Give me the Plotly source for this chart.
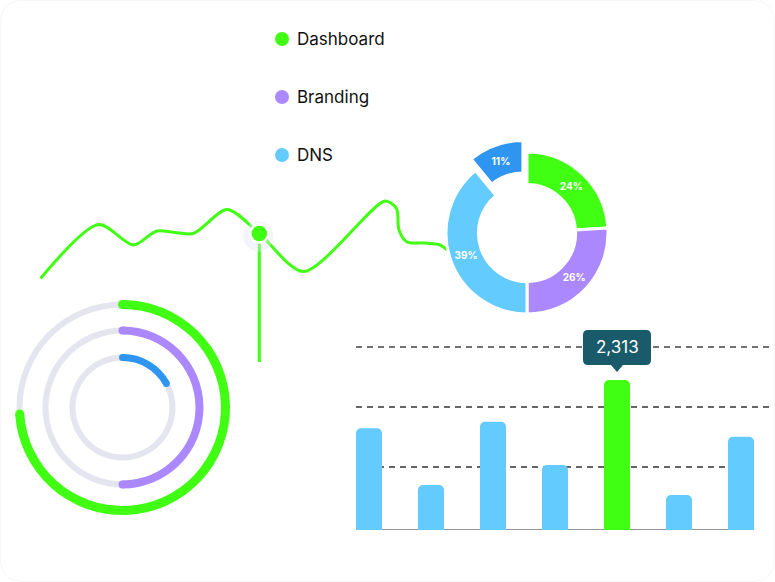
import plotly.graph_objects as go

W, H = 775, 582
FONT = "Inter"
GREEN = "#41FF12"
PURPLE = "#AB88FD"
LIGHT = "#64CBFE"
BLUE = "#2E95F1"
TRACK = "#E5E5F0"
TEAL = "#195B6A"

# ---------------- data ----------------
legend_labels = ["Dashboard", "Branding", "DNS"]
legend_colors = [GREEN, PURPLE, LIGHT]
legend_y = [39, 97, 155]

donut_labels = ["Dashboard", "Branding", "DNS", "Other"]
donut_values = [24, 26, 39, 11]
donut_colors = [GREEN, PURPLE, LIGHT, BLUE]
donut_pull = [0, 0, 0, 0.15]

ring_labels = ["Dashboard", "Branding", "DNS"]
ring_values = [74, 50, 17]          # percent complete
ring_colors = [GREEN, PURPLE, BLUE]

line_x = [40.5, 98.5, 133.5, 157, 193, 227, 259.3, 303.5, 385, 396.5, 399, 407, 424, 440, 455]
line_y = [278.5, 224.5, 245, 231, 233.5, 209.5, 233.5, 271.5, 201, 208.5, 230, 242, 243, 245, 256]
line_marker_index = 6
drop_to = 362

bar_categories = ["1", "2", "3", "4", "5", "6", "7"]
bar_values = [1568, 694, 1670, 1002, 2313, 540, 1439]
bar_highlight = 4
grid_levels = [2822, 1897, 971]

# ---------------- layout helpers ----------------
ring_cx, ring_cy = 122.5, 407.5
ring_radius = [103, 77, 50]
ring_width = [9, 8, 7]
track_width = 6
polar_half = 110

pie_cx, pie_cy, pie_r = 527, 233, 81
pie_half = pie_r * (1 + max(donut_pull))

bar_px_unit = 62.0
bar_left_px, bar_right_px = 356, 774
bar_first_center = 369
bar_base_px = 530
units_per_px = 2313 / 150.0
bar_ytop = 3400

fig = go.Figure()

# ---- line sparkline (overlay pixel canvas) ----
fig.add_trace(go.Scatter(
    x=line_x, y=line_y, mode="lines",
    line=dict(color=GREEN, width=3, shape="spline", smoothing=0.8),
    hoverinfo="skip", showlegend=False, xaxis="x", yaxis="y"))
mx, my = line_x[line_marker_index], line_y[line_marker_index]
fig.add_trace(go.Scatter(
    x=[mx, mx], y=[my, drop_to], mode="lines",
    line=dict(color=GREEN, width=3), hoverinfo="skip", showlegend=False))
fig.add_trace(go.Scatter(
    x=[mx - 1], y=[my + 3], mode="markers",
    marker=dict(size=30, color="rgba(225,229,243,0.38)"), hoverinfo="skip", showlegend=False))
fig.add_trace(go.Scatter(
    x=[mx], y=[my], mode="markers",
    marker=dict(size=18, color=GREEN, line=dict(color="white", width=2.5)),
    hoverinfo="skip", showlegend=False))

# ---- custom legend ----
fig.add_trace(go.Scatter(
    x=[282] * len(legend_labels), y=legend_y, mode="markers",
    marker=dict(size=14, color=legend_colors), hoverinfo="skip", showlegend=False))

# ---- donut ----
fig.add_trace(go.Pie(
    labels=donut_labels, values=donut_values, hole=0.6, sort=False,
    direction="clockwise", rotation=0, pull=donut_pull,
    marker=dict(colors=donut_colors, line=dict(color="white", width=3)),
    textinfo="percent", textposition="inside", insidetextorientation="horizontal",
    textfont=dict(color="white", size=10, family=FONT, weight=700),
    domain=dict(x=[(pie_cx - pie_half) / W, (pie_cx + pie_half) / W],
                y=[(H - pie_cy - pie_half) / H, (H - pie_cy + pie_half) / H]),
    hoverinfo="skip", showlegend=False))

# ---- bars ----
bar_colors = [GREEN if i == bar_highlight else LIGHT for i in range(len(bar_values))]
fig.add_trace(go.Bar(
    x=bar_categories, y=bar_values, width=26 / bar_px_unit,
    marker=dict(color=bar_colors, cornerradius=5, line=dict(width=0)),
    hoverinfo="skip", showlegend=False, xaxis="x2", yaxis="y2"))

# ---- radial rings ----
fig.add_trace(go.Barpolar(
    r=[track_width] * 3, base=[r - track_width / 2 for r in ring_radius],
    theta=[180] * 3, width=[360] * 3,
    marker=dict(color=TRACK, line=dict(width=0)), hoverinfo="skip", showlegend=False))
fig.add_trace(go.Barpolar(
    r=ring_width, base=[r - w / 2 for r, w in zip(ring_radius, ring_width)],
    theta=[v * 3.6 / 2 for v in ring_values], width=[v * 3.6 for v in ring_values],
    marker=dict(color=ring_colors, line=dict(width=0)), hoverinfo="skip", showlegend=False))
for v, r, w, c in zip(ring_values, ring_radius, ring_width, ring_colors):
    fig.add_trace(go.Scatterpolar(
        r=[r, r], theta=[0, v * 3.6], mode="markers",
        marker=dict(size=w, color=c, line=dict(width=0)), hoverinfo="skip", showlegend=False))

# ---- shapes ----
shapes = []
# faint card border
R = 24
shapes.append(dict(type="path", xref="x", yref="y", layer="below",
                   path=f"M {R},0.5 L {W-R},0.5 Q {W-0.5},0.5 {W-0.5},{R} L {W-0.5},{H-R} "
                        f"Q {W-0.5},{H-0.5} {W-R},{H-0.5} L {R},{H-0.5} Q 0.5,{H-0.5} 0.5,{H-R} "
                        f"L 0.5,{R} Q 0.5,0.5 {R},0.5 Z",
                   line=dict(color="#F6F6F8", width=1)))
x_lo = (bar_left_px - bar_first_center) / bar_px_unit
x_hi = (bar_right_px - bar_first_center) / bar_px_unit
edge_l = -13 / bar_px_unit
edge_r = len(bar_values) - 1 + 13 / bar_px_unit
grid_style = [("#444444", 1.4, 6.52), ("#666666", 2, 6.52), ("#333333", 1.5, edge_r)]
for lvl, (col, wd, xe) in zip(grid_levels, grid_style):
    shapes.append(dict(type="line", xref="x2", yref="y2", layer="below",
                       x0=edge_l, x1=xe, y0=lvl, y1=lvl,
                       line=dict(color=col, width=wd, dash="6px,5px")))
shapes.append(dict(type="line", xref="x2", yref="y2", layer="below",
                   x0=edge_l, x1=edge_r, y0=0, y1=0,
                   line=dict(color="#999999", width=2)))
# tooltip bubble anchored to highlighted bar
shapes.append(dict(type="path", xref="x2", yref="y2", layer="above",
                   xsizemode="pixel", ysizemode="pixel",
                   xanchor=bar_highlight, yanchor=bar_values[bar_highlight],
                   path="M -29,50 L 29,50 Q 34,50 34,45 L 34,20 Q 34,15 29,15 L 6,15 L 0,8 "
                        "L -6,15 L -29,15 Q -34,15 -34,20 L -34,45 Q -34,50 -29,50 Z",
                   fillcolor=TEAL, line=dict(width=0)))

annotations = []
annotations.append(dict(x=bar_highlight, y=bar_values[bar_highlight], xref="x2", yref="y2",
                        text=f"{bar_values[bar_highlight]:,}", showarrow=False, yshift=33,
                        font=dict(color="white", size=17, family=FONT)))
for lab, yy in zip(legend_labels, legend_y):
    annotations.append(dict(x=295, y=yy, xref="x", yref="y", text=lab, showarrow=False,
                            xanchor="left", yanchor="middle",
                            font=dict(color="#111111", size=17, family=FONT)))

bar_h_px = bar_ytop / units_per_px
fig.update_layout(
    width=W, height=H, margin=dict(l=0, r=0, t=0, b=0),
    paper_bgcolor="white", plot_bgcolor="rgba(0,0,0,0)",
    font=dict(family=FONT),
    xaxis=dict(domain=[0, 1], range=[0, W], visible=False, fixedrange=True),
    yaxis=dict(domain=[0, 1], range=[H, 0], visible=False, fixedrange=True),
    xaxis2=dict(domain=[bar_left_px / W, bar_right_px / W], range=[x_lo, x_hi],
                visible=False, type="category", anchor="y2"),
    yaxis2=dict(domain=[(H - bar_base_px) / H, (H - bar_base_px + bar_h_px) / H],
                range=[0, bar_ytop], visible=False, anchor="x2"),
    polar=dict(
        domain=dict(x=[(ring_cx - polar_half) / W, (ring_cx + polar_half) / W],
                    y=[(H - ring_cy - polar_half) / H, (H - ring_cy + polar_half) / H]),
        bgcolor="rgba(0,0,0,0)", hole=0,
        radialaxis=dict(range=[0, polar_half], visible=False, showgrid=False),
        angularaxis=dict(visible=False, showgrid=False, rotation=90, direction="clockwise")),
    shapes=shapes, annotations=annotations, showlegend=False,
)

fig.write_html("out.html")
